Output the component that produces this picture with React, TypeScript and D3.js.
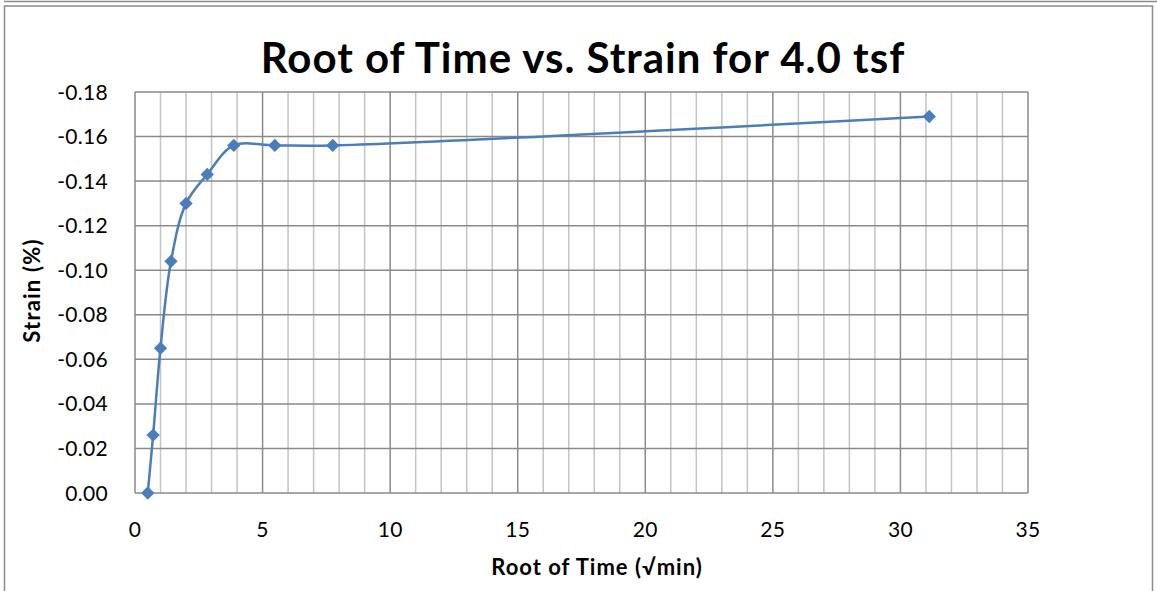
import React, { useEffect, useRef } from 'react';
import * as d3 from 'd3';

// root of time (sqrt min) vs strain (%)
const rootTime = [0.5, 0.71, 1.0, 1.41, 2.0, 2.83, 3.87, 5.48, 7.75, 31.13];
const strain = [0.0, -0.026, -0.065, -0.104, -0.13, -0.143, -0.156, -0.156, -0.156, -0.169];
const xTicks = [0, 5, 10, 15, 20, 25, 30, 35];
const yTicks = [0, -0.02, -0.04, -0.06, -0.08, -0.1, -0.12, -0.14, -0.16, -0.18];

const W = 1157;
const H = 591;
const FONT = "Lato, 'Noto Sans', sans-serif";

const App: React.FC = () => {
  const svgRef = useRef<SVGSVGElement | null>(null);

  useEffect(() => {
    if (!svgRef.current) return;
    const svg = d3.select(svgRef.current);
    svg.selectAll('*').remove();

    const margin = { top: 92, right: 129, bottom: 98, left: 135 };
    const innerWidth = W - margin.left - margin.right;
    const innerHeight = H - margin.top - margin.bottom;

    svg.append('rect').attr('width', W).attr('height', H).attr('fill', '#fff');

    // outer frame lines
    svg.append('line').attr('x1', 4).attr('x2', W).attr('y1', 1.5).attr('y2', 1.5)
      .attr('stroke', '#8c8c8c').attr('stroke-width', 1.5);
    svg.append('path').attr('d', `M4.5,${H}V6H1152.5V${H}`)
      .attr('fill', 'none').attr('stroke', '#8c8c8c').attr('stroke-width', 1.5);

    const x = d3.scaleLinear().domain([0, 35]).range([0, innerWidth]);
    const y = d3.scaleLinear().domain([0, -0.18]).range([innerHeight, 0]);

    const g = svg.append('g').attr('transform', `translate(${margin.left},${margin.top})`);

    // minor vertical grid
    g.append('g')
      .selectAll('line')
      .data(d3.range(0, 36).filter(v => v % 5 !== 0))
      .join('line')
      .attr('x1', d => x(d)).attr('x2', d => x(d))
      .attr('y1', 0).attr('y2', innerHeight)
      .attr('stroke', '#c4c4c4').attr('stroke-width', 1.5);

    // major grid
    g.append('g')
      .selectAll('line')
      .data(xTicks)
      .join('line')
      .attr('x1', d => x(d)).attr('x2', d => x(d))
      .attr('y1', 0).attr('y2', innerHeight)
      .attr('stroke', '#8a8a8a').attr('stroke-width', 1.5);
    g.append('g')
      .selectAll('line')
      .data(yTicks)
      .join('line')
      .attr('x1', 0).attr('x2', innerWidth)
      .attr('y1', d => y(d)).attr('y2', d => y(d))
      .attr('stroke', '#8a8a8a').attr('stroke-width', 1.5);

    // tick labels
    g.append('g')
      .selectAll('text')
      .data(yTicks)
      .join('text')
      .attr('x', -27)
      .attr('y', d => y(d))
      .attr('dy', '0.36em')
      .attr('text-anchor', 'end')
      .attr('font-family', FONT)
      .attr('font-size', 21)
      .attr('letter-spacing', 0.3)
      .text(d => (d === 0 ? '0.00' : d.toFixed(2)));
    g.append('g')
      .selectAll('text')
      .data(xTicks)
      .join('text')
      .attr('x', d => x(d))
      .attr('y', innerHeight + 44)
      .attr('text-anchor', 'middle')
      .attr('font-family', FONT)
      .attr('font-size', 21)
      .attr('letter-spacing', 0.3)
      .text(d => String(d));

    const pts = rootTime.map((t, i) => [t, strain[i]] as [number, number]);
    const line = d3
      .line<[number, number]>()
      .x(d => x(d[0]))
      .y(d => y(d[1]))
      .curve(d3.curveCatmullRom.alpha(0.5));
    g.append('path')
      .datum(pts)
      .attr('fill', 'none')
      .attr('stroke', '#4a7ebb')
      .attr('stroke-width', 2.5)
      .attr('d', line);

    const marker = d3.symbol().type(d3.symbolSquare).size(88);
    g.append('g')
      .selectAll('path')
      .data(pts)
      .join('path')
      .attr('d', marker)
      .attr('transform', d => `translate(${x(d[0])},${y(d[1])}) rotate(45)`)
      .attr('fill', '#4a7ebb');

    // title and axis titles
    svg.append('text')
      .attr('x', 583)
      .attr('y', 73)
      .attr('text-anchor', 'middle')
      .attr('font-family', FONT)
      .attr('font-weight', 'bold')
      .attr('font-size', 42)
      .attr('letter-spacing', 1)
      .text('Root of Time vs. Strain for 4.0 tsf');
    svg.append('text')
      .attr('x', 597)
      .attr('y', 575)
      .attr('text-anchor', 'middle')
      .attr('font-family', FONT)
      .attr('font-weight', 'bold')
      .attr('font-size', 22)
      .attr('letter-spacing', 1)
      .text('Root of Time (√min)');
    svg.append('text')
      .attr('transform', `translate(40,${margin.top + innerHeight / 2 - 2}) rotate(-90)`)
      .attr('text-anchor', 'middle')
      .attr('font-family', FONT)
      .attr('font-weight', 'bold')
      .attr('font-size', 22)
      .attr('letter-spacing', 1.2)
      .text('Strain (%)');
  }, []);

  return (
    <svg
      ref={svgRef}
      width={W}
      height={H}
      style={{ position: 'absolute', left: 0, top: 0 }}
    />
  );
};

export default App;
